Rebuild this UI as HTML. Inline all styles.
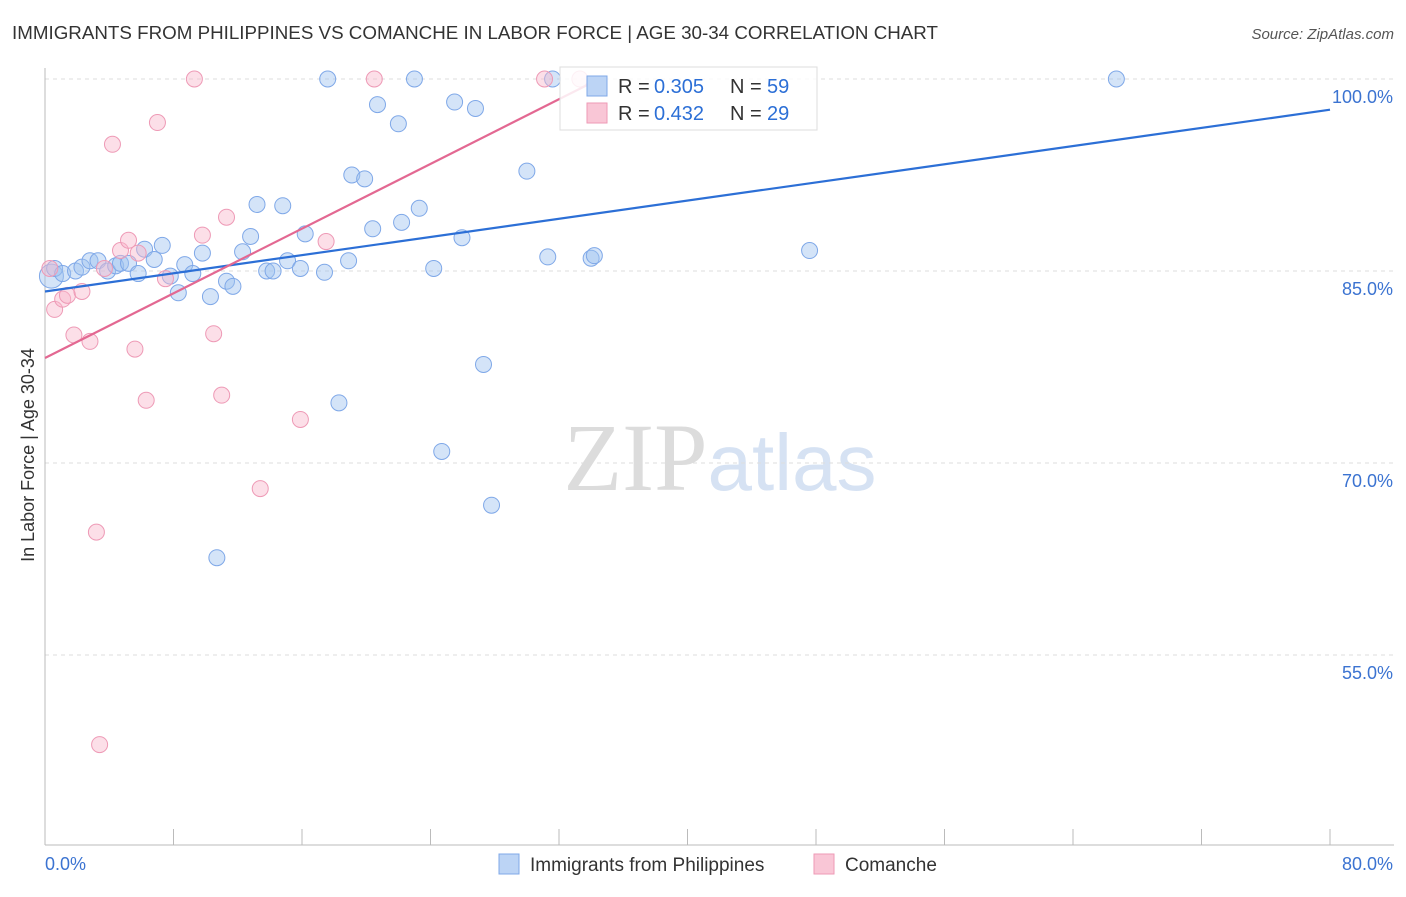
<!DOCTYPE html>
<html><head><meta charset="utf-8"><style>
body{margin:0;background:#fff;font-family:"Liberation Sans",sans-serif;}
</style></head><body>
<svg width="1406" height="892" xmlns="http://www.w3.org/2000/svg" id="svg">
<text x="12" y="39" font-size="18" fill="#333" textLength="926" lengthAdjust="spacingAndGlyphs">IMMIGRANTS FROM PHILIPPINES VS COMANCHE IN LABOR FORCE | AGE 30-34 CORRELATION CHART</text>
<text x="1394" y="39" font-size="15" fill="#555" text-anchor="end" font-style="italic">Source: ZipAtlas.com</text>
<text x="720" y="490" font-size="96" text-anchor="middle"><tspan fill="#dcdcdc" font-family="Liberation Serif">ZIP</tspan><tspan fill="#d6e2f3" font-size="80">atlas</tspan></text>
<text transform="translate(34,455) rotate(-90)" font-size="18" fill="#333" text-anchor="middle">In Labor Force | Age 30-34</text>
<g id="grid"></g><g id="pts"></g><g id="lines"></g>
<g>
<rect x="560" y="67" width="257" height="63" fill="#fff" fill-opacity="0.85" stroke="#ddd"/>
<rect x="587" y="76" width="20" height="20" fill="#bcd4f5" stroke="#7fa8e8"/>
<rect x="587" y="103" width="20" height="20" fill="#f9c6d6" stroke="#ee9ab6"/>
<text x="618" y="93" font-size="20" fill="#333">R =</text>
<text x="654" y="93" font-size="20" fill="#2c6fd6">0.305</text>
<text x="730" y="93" font-size="20" fill="#333">N =</text>
<text x="767" y="93" font-size="20" fill="#2c6fd6">59</text>
<text x="618" y="120" font-size="20" fill="#333">R =</text>
<text x="654" y="120" font-size="20" fill="#2c6fd6">0.432</text>
<text x="730" y="120" font-size="20" fill="#333">N =</text>
<text x="767" y="120" font-size="20" fill="#2c6fd6">29</text>
</g>
<g>
<rect x="499" y="854" width="20" height="20" fill="#bcd4f5" stroke="#7fa8e8"/>
<text x="530" y="871" font-size="19" fill="#333">Immigrants from Philippines</text>
<rect x="814" y="854" width="20" height="20" fill="#f9c6d6" stroke="#ee9ab6"/>
<text x="845" y="871" font-size="19" fill="#333">Comanche</text>
</g>
</svg>
<script>
const blueX=[0.4,0.6,1.1,1.9,2.3,2.8,3.3,3.9,4.4,4.7,5.2,5.8,6.2,6.8,7.3,7.8,8.3,8.7,9.2,9.8,10.3,11.3,11.7,12.3,12.8,13.2,13.8,14.2,14.8,15.1,15.9,16.2,17.4,17.6,18.9,19.1,19.9,20.4,20.7,22.0,22.2,23.0,23.3,24.2,25.5,25.96,26.8,27.3,27.8,30.0,31.3,31.6,34.0,34.2,47.6,66.7,18.3,24.7,10.7];
const blueY=[84.6,85.2,84.8,85.0,85.3,85.8,85.8,85.0,85.4,85.6,85.6,84.8,86.7,85.9,87.0,84.6,83.3,85.5,84.8,86.4,83.0,84.2,83.8,86.5,87.7,90.2,85.0,85.0,90.1,85.8,85.2,87.9,84.9,100,85.8,92.5,92.2,88.3,98.0,96.5,88.8,100,89.9,85.2,98.2,87.6,97.7,77.7,66.7,92.8,86.1,100,86.0,86.2,86.6,100,74.7,70.9,62.6];
const pinkX=[0.3,0.6,1.1,1.4,1.8,2.3,2.8,3.2,3.4,3.7,4.2,4.7,5.2,5.6,5.8,6.3,7.0,7.5,9.3,9.8,10.5,11.0,11.3,13.4,15.9,17.5,20.5,31.1,33.3];
const pinkY=[85.2,82.0,82.8,83.1,80.0,83.4,79.5,64.6,48.0,85.2,94.9,86.6,87.4,78.9,86.4,74.9,96.6,84.4,100,87.8,80.1,75.3,89.2,68.0,73.4,87.3,100,100,100];
const blueLine=[[0,83.4],[80,97.6]], pinkLine=[[0,78.2],[34.5,100]];
const yTicks=[100,85,70,55], yTickLabels=["100.0%","85.0%","70.0%","55.0%"];
const NS="http://www.w3.org/2000/svg";
const X=v=>45+v/80*1285, Y=v=>79+(100-v)*12.8;
function mk(t,a,p){const e=document.createElementNS(NS,t);for(const k in a)e.setAttribute(k,a[k]);p.appendChild(e);return e;}
const g=document.getElementById('grid'),P=document.getElementById('pts'),L=document.getElementById('lines');
yTicks.forEach((v,i)=>{const l=mk('line',{x1:45,x2:1394,y1:Y(v),y2:Y(v),stroke:'#ddd','stroke-dasharray':'4 4'},g);


const t=mk('text',{x:1393,y:Y(v)+24,'font-size':18,fill:'#3b73d1','text-anchor':'end'},g);t.textContent=yTickLabels[i];

});
mk('line',{x1:45,x2:45,y1:68,y2:845,stroke:'#bbb'},g);
mk('line',{x1:45,x2:1394,y1:845,y2:845,stroke:'#bbb'},g);
for(let i=0;i<=10;i++){const t=mk('line',{x1:X(i*8),x2:X(i*8),y1:829,y2:845,stroke:'#bbb'},g);

}
const x0=mk('text',{x:45,y:870,'font-size':18,fill:'#3b73d1'},g);x0.textContent="0.0%";


const x1=mk('text',{x:1393,y:870,'font-size':18,fill:'#3b73d1','text-anchor':'end'},g);x1.textContent="80.0%";


blueX.forEach((v,i)=>{const c=mk('circle',{cx:X(v),cy:Y(blueY[i]),r:i==0?12:8,fill:'rgba(160,195,240,0.45)',stroke:'#7fa8e8','stroke-width':1},P);

});
pinkX.forEach((v,i)=>{const c=mk('circle',{cx:X(v),cy:Y(pinkY[i]),r:8,fill:'rgba(248,185,205,0.45)',stroke:'#ee9ab6','stroke-width':1},P);

});
const bl=mk('line',{x1:X(blueLine[0][0]),y1:Y(blueLine[0][1]),x2:X(blueLine[1][0]),y2:Y(blueLine[1][1]),stroke:'#2c6fd6','stroke-width':2.2},L);


const pl=mk('line',{x1:X(pinkLine[0][0]),y1:Y(pinkLine[0][1]),x2:X(pinkLine[1][0]),y2:Y(pinkLine[1][1]),stroke:'#e36892','stroke-width':2.2},L);


</script>
</body></html>
